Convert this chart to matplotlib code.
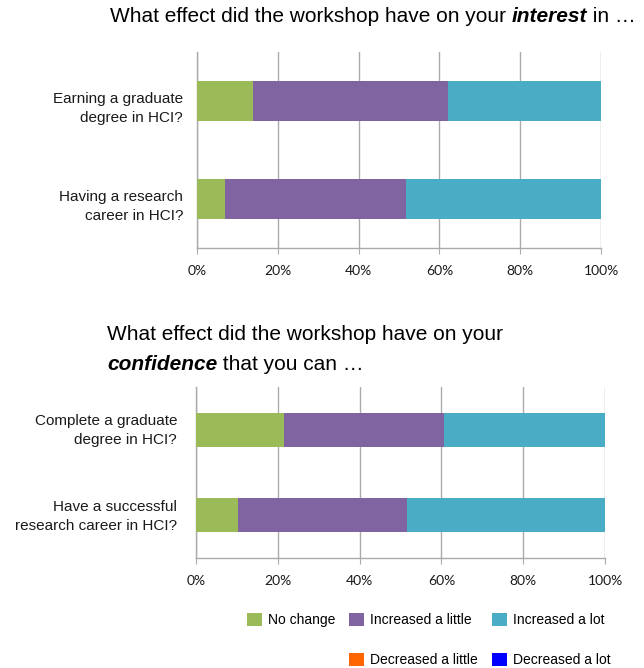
import matplotlib
matplotlib.use('Agg')
import matplotlib.pyplot as plt
import matplotlib.transforms as mtransforms
import numpy as np

plt.rcParams['font.family'] = ['Liberation Sans', 'DejaVu Sans']

W, H = 644, 668

series = ['No change', 'Increased a little', 'Increased a lot',
          'Decreased a little', 'Decreased a lot']
colors = ['#9BBB59', '#8064A2', '#4BACC6', '#FF6600', '#0000FF']

# percentages
interest_labels = ['Earning a graduate\ndegree in HCI?', 'Having a research\ncareer in HCI?']
interest_no_change = [13.8, 6.9]
interest_inc_little = [48.3, 44.8]
interest_inc_lot = [37.9, 48.3]
interest_dec_little = [0, 0]
interest_dec_lot = [0, 0]

confidence_labels = ['Complete a graduate\ndegree in HCI?', 'Have a successful\nresearch career in HCI?']
confidence_no_change = [21.4, 10.3]
confidence_inc_little = [39.3, 41.4]
confidence_inc_lot = [39.3, 48.3]
confidence_dec_little = [0, 0]
confidence_dec_lot = [0, 0]

xticks = [0, 20, 40, 60, 80, 100]
xticklabels = ['0%', '20%', '40%', '60%', '80%', '100%']

fig = plt.figure(figsize=(W/100, H/100), dpi=100)

def px_axes(l, t, r, b):
    return fig.add_axes([l/W, 1-b/H, (r-l)/W, (b-t)/H])

ax1 = px_axes(197, 52, 601, 248)
ax2 = px_axes(196, 387, 605, 558)

grid_c = '#ABABAB'

def stacked(ax, labels, data, ypad, yshift):
    y = np.arange(len(labels))
    left = np.zeros(len(labels))
    bars = []
    for vals, c, name in zip(data, colors, series):
        b = ax.barh(y, vals, left=left, height=0.4, color=c, label=name, zorder=3)
        left += np.array(vals)
        bars.append(b)
    ax.set_xlim(0, 100)
    ax.set_ylim(len(labels)-0.5, -0.5)
    ax.set_yticks(y)
    ax.set_yticklabels(labels, fontsize=11, color='#1a1a1a', ha='right', linespacing=1.45)
    ax.tick_params(axis='y', length=0, pad=ypad)
    # small vertical nudge of the category labels (pixels)
    off = mtransforms.ScaledTranslation(0, yshift/100, fig.dpi_scale_trans)
    for lab in ax.get_yticklabels():
        lab.set_transform(lab.get_transform() + off)
    ax.set_xticks(xticks)
    ax.set_xticklabels(xticklabels, fontsize=10, family='Lato', color='#1a1a1a')
    ax.tick_params(axis='x', length=4, color=grid_c, pad=8)
    ax.grid(axis='x', color=grid_c, linewidth=1.0, zorder=0)
    for s in ['top', 'right']:
        ax.spines[s].set_visible(False)
    for s in ['left', 'bottom']:
        ax.spines[s].set_color(grid_c)
        ax.spines[s].set_linewidth(1.0)
    return bars

bars = stacked(ax1, interest_labels,
               [interest_no_change, interest_inc_little, interest_inc_lot,
                interest_dec_little, interest_dec_lot], 10, -4)
stacked(ax2, confidence_labels,
        [confidence_no_change, confidence_inc_little, confidence_inc_lot,
         confidence_dec_little, confidence_dec_lot], 13.5, 3)

# titles with bold italic words
t1 = fig.text(110/W, 1-17/H, 'What effect did the workshop have on your ', fontsize=15, va='center')
t2 = ax1.annotate('interest', xy=(1, 0), xycoords=t1, va='bottom', fontsize=15,
                  fontweight='bold', fontstyle='italic', annotation_clip=False)
ax1.annotate(' in \u2026', xy=(1, 0), xycoords=t2, va='bottom', fontsize=15, annotation_clip=False)

fig.text(107/W, 1-335/H, 'What effect did the workshop have on your', fontsize=15, va='center')
t4 = fig.text(107/W, 1-365/H, 'confidence', fontsize=15, va='center',
              fontweight='bold', fontstyle='italic')
ax2.annotate(' that you can \u2026', xy=(1, 0), xycoords=t4, va='bottom', fontsize=15,
             annotation_clip=False)

# legend: 3 columns, blank slot under "No change"
blank = plt.Rectangle((0, 0), 1, 1, visible=False)
handles = [bars[0], blank, bars[1], bars[3], bars[2], bars[4]]
labels = [series[0], '', series[1], series[3], series[2], series[4]]
fig.legend(handles, labels, ncol=3, loc='upper left',
           bbox_to_anchor=(247/W, 1-613/H), frameon=False, fontsize=10,
           handlelength=1.07, handleheight=1.07, handletextpad=0.45,
           columnspacing=1.0, labelspacing=1.85, borderpad=0, borderaxespad=0)

plt.savefig('out.png', dpi=100)
